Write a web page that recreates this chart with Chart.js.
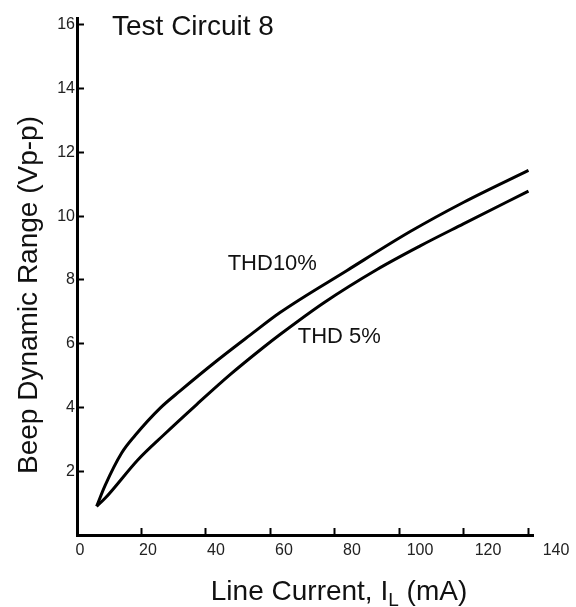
<!DOCTYPE html>
<html>
<head>
<meta charset="utf-8">
<script src="https://cdn.jsdelivr.net/npm/chart.js@4.4.1/dist/chart.umd.min.js"></script>
<style>
    html, body { margin: 0; padding: 0; background: #fff; }
    #wrap { width: 576px; height: 607px; position: relative; }
</style>
</head>
<body>
<div id="wrap"><canvas id="beep-canvas"></canvas></div>
<script>
// line current (mA) vs beep dynamic range (Vp-p)
const thd10_x = [6.1, 8.7, 13.9, 18.0, 25.8, 32.0, 43.2, 53.7, 63.0, 83.8, 103.4, 120.0, 140.1];
const thd10_y = [0.90, 1.55, 2.58, 3.12, 3.98, 4.52, 5.45, 6.27, 6.98, 8.30, 9.52, 10.44, 11.44];
const thd5_x  = [6.1, 8.7, 19.0, 26.8, 37.2, 47.5, 57.9, 63.0, 76.5, 93.1, 106.5, 119.9, 140.1];
const thd5_y  = [0.90, 1.15, 2.37, 3.13, 4.10, 5.03, 5.89, 6.29, 7.28, 8.33, 9.07, 9.76, 10.79];

// tick labels (the printed x labels sit a bit off the tick marks)
const x_labels = [0, 20, 40, 60, 80, 100, 120, 140];
const y_labels = [2, 4, 6, 8, 10, 12, 14, 16];

// curve names written next to the lines
const note_text = ["THD10%", "THD 5%"];
const note_x    = [60.6, 81.4];
const note_y    = [8.51, 6.20];

const FONT = "'Liberation Sans', Arial, sans-serif";

function toPoints(xs, ys) {
    return xs.map((v, i) => ({ x: v, y: ys[i] }));
}

// titles and curve names
const textPlugin = {
    id: "textPlugin",
    afterDraw(chart) {
        const ctx = chart.ctx;
        const xs = chart.scales.x;
        const ys = chart.scales.y;
        ctx.save();
        ctx.fillStyle = "#111";

        ctx.font = "28px " + FONT;
        ctx.textAlign = "left";
        ctx.textBaseline = "alphabetic";
        ctx.fillText("Test Circuit 8", 112, 35);

        ctx.font = "22px " + FONT;
        ctx.textAlign = "center";
        ctx.textBaseline = "middle";
        note_text.forEach((t, i) => {
            ctx.fillText(t, xs.getPixelForValue(note_x[i]), ys.getPixelForValue(note_y[i]));
        });

        // y title
        ctx.save();
        ctx.translate(37, 295);
        ctx.rotate(-Math.PI / 2);
        ctx.font = "28px " + FONT;
        ctx.textAlign = "center";
        ctx.textBaseline = "alphabetic";
        ctx.fillText("Beep Dynamic Range (Vp-p)", 0, 0);
        ctx.restore();

        // x title, with subscript L
        const big = "28px " + FONT, small = "19px " + FONT;
        const p1 = "Line Current, I", p2 = "L", p3 = " (mA)";
        ctx.textAlign = "left";
        ctx.textBaseline = "alphabetic";
        ctx.font = big;
        const w1 = ctx.measureText(p1).width, w3 = ctx.measureText(p3).width;
        ctx.font = small;
        const w2 = ctx.measureText(p2).width;
        let x0 = 339 - (w1 + w2 + w3) / 2;
        ctx.font = big;
        ctx.fillText(p1, x0, 600);
        ctx.font = small;
        ctx.fillText(p2, x0 + w1, 606);
        ctx.font = big;
        ctx.fillText(p3, x0 + w1 + w2, 600);
        ctx.restore();
    }
};

const ctx = document.getElementById("beep-canvas").getContext("2d");
const beep_chart = new Chart(ctx, {
    type: "line",
    data: {
        datasets: [
            {
                label: "THD10%",
                data: toPoints(thd10_x, thd10_y),
                borderColor: "#000",
                borderWidth: 3,
                pointRadius: 0,
                cubicInterpolationMode: "monotone",
                fill: false
            },
            {
                label: "THD 5%",
                data: toPoints(thd5_x, thd5_y),
                borderColor: "#000",
                borderWidth: 3,
                pointRadius: 0,
                cubicInterpolationMode: "monotone",
                fill: false
            }
        ]
    },
    options: {
        responsive: true,
        maintainAspectRatio: false,
        animation: false,
        layout: { padding: { left: 0, right: 43, top: 15, bottom: 0 } },
        plugins: {
            legend: { display: false },
            tooltip: { enabled: false }
        },
        scales: {
            x: {
                type: "linear",
                position: "bottom",
                weight: 0,
                min: 0,
                max: 141.5,
                border: { color: "#000", width: 3 },
                grid: { drawOnChartArea: false, tickLength: -7, tickWidth: 2, tickColor: "#000" },
                ticks: { stepSize: 20, includeBounds: false, display: false },
                afterFit: s => { s.height = 0; }
            },
            xl: {
                type: "linear",
                position: "bottom",
                weight: 1,
                min: -0.88,
                max: 133.24,
                border: { display: false },
                grid: { display: false },
                ticks: {
                    autoSkip: false,
                    padding: -2,
                    color: "#222",
                    font: { family: FONT, size: 16 }
                },
                afterBuildTicks: s => { s.ticks = x_labels.map(v => ({ value: v })); },
                afterFit: s => { s.height = 72; }
            },
            y: {
                type: "linear",
                position: "left",
                min: 0,
                max: 16.2,
                border: { color: "#000", width: 3 },
                grid: { drawOnChartArea: false, tickLength: -7, tickWidth: 2, tickColor: "#000" },
                ticks: {
                    padding: 9,
                    color: "#222",
                    font: { family: FONT, size: 16 },
                    callback: v => (y_labels.includes(v) ? String(v) : "")
                },
                afterBuildTicks: s => { s.ticks = [0].concat(y_labels).map(v => ({ value: v })); },
                afterFit: s => { s.width = 77; }
            }
        }
    },
    plugins: [textPlugin]
});
</script>
</body>
</html>
